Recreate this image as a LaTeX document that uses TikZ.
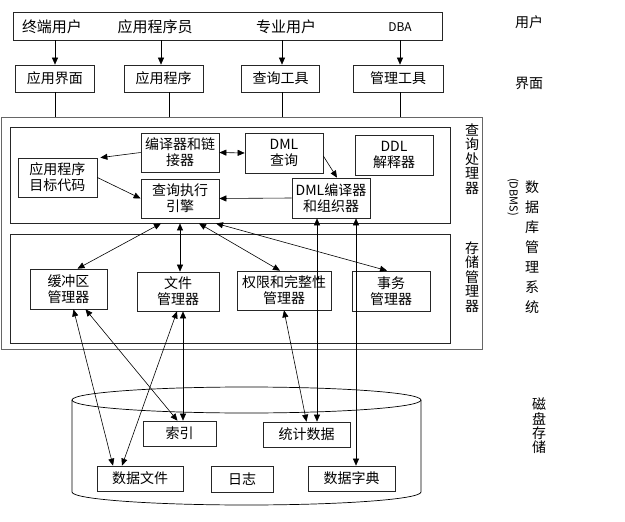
\documentclass[tikz,border=0pt]{standalone}
\usepackage{fontspec}
\newfontfamily\cjk{Noto Sans CJK SC}
\usetikzlibrary{arrows.meta}
\newcommand{\boxfont}{\cjk\fontsize{14}{16}\selectfont}
\newcommand{\sidefont}{\cjk\fontsize{14}{14.4}\selectfont}

\begin{document}
\begin{tikzpicture}[x=1pt,y=-1pt,
  box/.style={draw=black!85,line width=0.7pt,align=center,inner sep=0pt,font=\boxfont},
  panel/.style={draw=black!85,line width=0.8pt,inner sep=0pt},
  lbl/.style={align=center,inner sep=0pt,font=\sidefont},
  oneway/.style={-{Triangle[length=7pt,width=6pt]},line width=0.6pt},
  twoway/.style={{Triangle[length=7pt,width=6pt]}-{Triangle[length=7pt,width=6pt]},line width=0.6pt}]
  \useasboundingbox (0,0) rectangle (625,522);

  % users and interfaces
  \node[box,minimum width=429,minimum height=28] (users) at (227.5,26) {};
  \node[lbl,font=\cjk\fontsize{15}{16}\selectfont] (u1) at (52,27) {终端用户};
  \node[lbl,font=\cjk\fontsize{15}{16}\selectfont] (u2) at (155,27) {应用程序员};
  \node[lbl,font=\cjk\fontsize{15}{16}\selectfont] (u3) at (286,27) {专业用户};
  \node[lbl,font=\cjk\fontsize{12}{13}\selectfont] (u4) at (400,27) {DBA};

  \node[box,minimum width=79,minimum height=27] (i1) at (55,78.5) {应用界面};
  \node[box,minimum width=79,minimum height=27] (i2) at (163.5,78.5) {应用程序};
  \node[box,minimum width=78,minimum height=27] (i3) at (280.5,78.5) {查询工具};
  \node[box,minimum width=90,minimum height=27] (i4) at (398,78.5) {管理工具};

  \node[lbl] (tuser) at (529,22) {用户};
  \node[lbl] (tface) at (529,83) {界面};

  % dbms
  \node[panel,draw=black!60,line width=1pt,minimum width=481,minimum height=232] (dbms) at (241.5,233) {};
  \node[panel,minimum width=440,minimum height=96] (qp) at (230,175) {};
  \node[panel,minimum width=440,minimum height=109] (sm) at (230,288.5) {};

  \node[lbl] (tqp) at (472,159) {查\\询\\处\\理\\器};
  \node[lbl] (tsm) at (472,277) {存\\储\\管\\理\\器};
  \node[lbl,font=\cjk\fontsize{14}{20}\selectfont] (tdbms) at (532,247) {数\\据\\库\\管\\理\\系\\统};
  \node[lbl,rotate=-90,font=\cjk\fontsize{11}{13}\selectfont] (tabbr) at (513,197) {(DBMS)};

  \node[box,minimum width=78,minimum height=39] (cl) at (180,152.5) {编译器和链\\接器};
  \node[box,minimum width=78,minimum height=40] (dq) at (284,153) {DML\\查询};
  \node[box,minimum width=78,minimum height=40] (ddl) at (394,155) {DDL\\解释器};
  \node[box,minimum width=79,minimum height=39] (obj) at (57.5,177.5) {应用程序\\目标代码};
  \node[box,minimum width=78,minimum height=39] (qe) at (180,198.5) {查询执行\\引擎};
  \node[box,minimum width=78,minimum height=40] (dc) at (331,198) {DML编译器\\和组织器};

  \node[box,minimum width=77,minimum height=40] (buf) at (68.5,289) {缓冲区\\管理器};
  \node[box,minimum width=82,minimum height=39] (fm) at (178,291.5) {文件\\管理器};
  \node[box,minimum width=94,minimum height=39] (auth) at (284,290.5) {权限和完整性\\管理器};
  \node[box,minimum width=78,minimum height=40] (tx) at (391,291) {事务\\管理器};

  % disk
  \draw[line width=0.7pt] (246.5,400) ellipse [x radius=174.5,y radius=13];
  \draw[line width=0.7pt] (72,400) -- (72,492)
    arc[start angle=180,end angle=0,x radius=174.5,y radius=13] -- (421,400);
  \node[lbl] (tdisk) at (539,426) {磁\\盘\\存\\储};

  \node[box,minimum width=73,minimum height=25] (idx) at (179.5,433.5) {索引};
  \node[box,minimum width=87,minimum height=25] (stat) at (306.5,434.5) {统计数据};
  \node[box,minimum width=86,minimum height=25] (df) at (140,478.5) {数据文件};
  \node[box,minimum width=62,minimum height=26] (log) at (242,479) {日志};
  \node[box,minimum width=87,minimum height=25] (dd) at (351.5,478.5) {数据字典};

  % connectors
  \foreach \i/\dx in {1/0,2/-2.5,3/1.5,4/2}
    \draw[oneway] ([xshift=\dx]i\i.north |- users.south) -- ([xshift=\dx]i\i.north);
  \foreach \i/\dx in {1/0,2/5.5,3/1.5,4/2}
    \draw[line width=0.6pt] ([xshift=\dx]i\i.south) -- ([xshift=\dx]i\i.south |- dbms.north);

  \draw[oneway] (cl.west) -- ([xshift=3]obj.north east);
  \draw[twoway] (cl.east) -- (dq.west);
  \draw[oneway] (obj.east) -- (qe.west);
  \draw[oneway] ([yshift=-3]dq.east) -- ([xshift=6]dc.north);
  \draw[oneway] (dc.west) -- (qe.east);

  \draw[twoway] ([xshift=-19]qe.south |- qp.south) -- ([xshift=9]buf.north);
  \draw[twoway] (qe.south |- qp.south) -- (qe.south |- fm.north);
  \draw[twoway] ([xshift=19]qe.south |- qp.south) -- ([xshift=-4]auth.north);
  \draw[twoway] ([xshift=36]qe.south |- qp.south) -- ([xshift=-4]tx.north);

  \draw[twoway] ([xshift=5]buf.south) -- ([xshift=-27]df.north);
  \draw[twoway] ([xshift=17]buf.south) -- ([xshift=-2]idx.north);
  \draw[twoway] ([xshift=-1]fm.south) -- ([xshift=-18]df.north);
  \draw[twoway] ([xshift=5]fm.south) -- ([xshift=5]fm.south |- idx.north);
  \draw[twoway] (auth.south) -- (stat.north);
  \draw[twoway] ([xshift=-14]dc.south) -- ([xshift=-14]dc.south |- stat.north);
  \draw[twoway] ([xshift=25]dc.south) -- ([xshift=25]dc.south |- dd.north);
\end{tikzpicture}
\end{document}
